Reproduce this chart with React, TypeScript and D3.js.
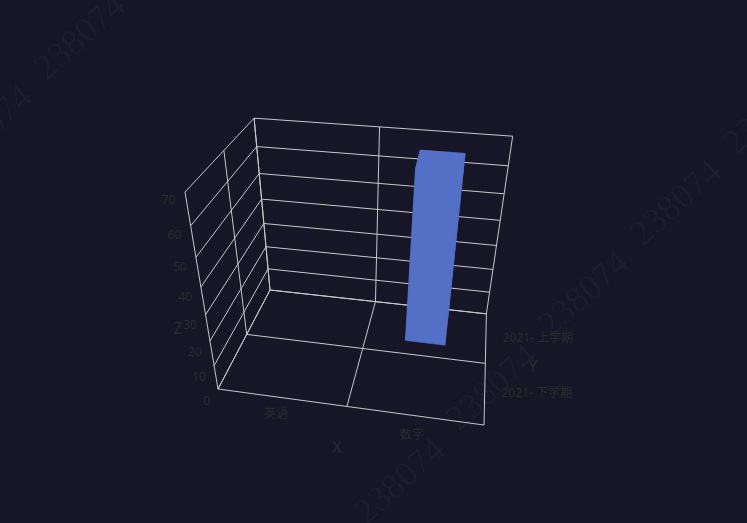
import React from "react";
import * as d3 from "d3";

const xCategories = ["英语", "数字"];
const yCategories = ["2021- 下学期", "2021- 上学期"];
const zTicks = [0, 10, 20, 30, 40, 50, 60, 70];
const barX = ["数字"];
const barY = ["2021- 上学期"];
const barZ = [66];

const BG = "#161627";
const GRID = "#c8c8c8";
const TEXT = "#2c2c2c";
const BAR = "#5470c6";
const FONT = "'Noto Sans', 'Noto Sans CJK SC', sans-serif";

// Perspective camera of the box, expressed as homogeneous images of the axis ends.
const O = [218, 389], X = [484, 425], Y = [270, 290], Z = [185, 192];
const hx = 0.94, hy = 1.23, hz = 0.8054;

const uScale = d3.scaleBand<string>().domain(xCategories).range([0, 1]);
const vScale = d3.scaleBand<string>().domain(yCategories).range([0, 1]);
const wScale = d3.scaleLinear().domain([0, 70]).range([0, 1]);

function project(u: number, v: number, w: number): [number, number] {
  const h = 1 - u - v - w + u * hx + v * hy + w * hz;
  const px = O[0] * (1 - u - v - w) + u * hx * X[0] + v * hy * Y[0] + w * hz * Z[0];
  const py = O[1] * (1 - u - v - w) + u * hx * X[1] + v * hy * Y[1] + w * hz * Z[1];
  return [px / h, py / h];
}

const line = d3.line<[number, number]>();
const seg = (a: [number, number, number], b: [number, number, number]) =>
  line([project(...a), project(...b)]) as string;

const gridSegs: string[] = [];
[0, 0.5, 1].forEach((t) => {
  gridSegs.push(seg([t, 0, 0], [t, 1, 0]));
  gridSegs.push(seg([0, t, 0], [1, t, 0]));
  gridSegs.push(seg([0, t, 0], [0, t, 1]));
  gridSegs.push(seg([t, 1, 0], [t, 1, 1]));
});
zTicks.forEach((z) => {
  const w = wScale(z);
  gridSegs.push(seg([0, 0, w], [0, 1, w]));
  gridSegs.push(seg([0, 1, w], [1, 1, w]));
});

const BAR_U_FRACTION = 0.33;
const BAR_V_FRACTION = 0.5;
function barFaces(cx: string, cy: string, value: number): string[] {
  const bw = uScale.bandwidth(), bh = vScale.bandwidth();
  const u0 = (uScale(cx) as number) + (bw * (1 - BAR_U_FRACTION)) / 2;
  const u1 = u0 + bw * BAR_U_FRACTION;
  const v0 = (vScale(cy) as number) + (bh * (1 - BAR_V_FRACTION)) / 2;
  const v1 = v0 + bh * BAR_V_FRACTION;
  const w = wScale(value);
  const quad = (pts: [number, number, number][]) =>
    (line(pts.map((p) => project(...p))) as string) + "Z";
  return [
    quad([[u0, v0, 0], [u1, v0, 0], [u1, v0, w], [u0, v0, w]]),
    quad([[u0, v1, 0], [u1, v1, 0], [u1, v1, w], [u0, v1, w]]),
    quad([[u0, v0, 0], [u0, v1, 0], [u0, v1, w], [u0, v0, w]]),
    quad([[u1, v0, 0], [u1, v1, 0], [u1, v1, w], [u1, v0, w]]),
    quad([[u0, v0, w], [u1, v0, w], [u1, v1, w], [u0, v1, w]]),
  ];
}

const watermarkStarts: [number, number][] = [
  [-46, 172], [47, 81], [367, 525], [459, 432], [551, 338], [643, 247], [736, 156],
];

export default function App() {
  return (
    <svg
      width={747}
      height={523}
      viewBox="0 0 747 523"
      style={{ position: "absolute", left: 0, top: 0, display: "block", background: BG }}
    >
      <rect width={747} height={523} fill={BG} />
      {watermarkStarts.map(([x, y], i) => (
        <text
          key={i}
          transform={`translate(${x},${y}) rotate(-42)`}
          fontFamily="'Liberation Serif', serif"
          fontSize={36}
          fill="#ffffff"
          fillOpacity={0.035}
        >
          238074
        </text>
      ))}
      <g stroke={GRID} strokeWidth={1} fill="none">
        {gridSegs.map((d, i) => (
          <path key={i} d={d} />
        ))}
      </g>
      {barX.map((cx, i) =>
        barFaces(cx, barY[i], barZ[i]).map((d, j) => (
          <path key={`${i}-${j}`} d={d} fill={BAR} stroke={BAR} strokeWidth={0.5} />
        ))
      )}
      <g fontFamily={FONT} fontSize={12} fill={TEXT} dominantBaseline="middle">
        {zTicks.map((z) => {
          const w = wScale(z);
          const [px, py] = project(0, 0, w);
          return (
            <text key={z} x={px - 8 - 1.5 * w} y={py + 13 - 4 * w} textAnchor="end">
              {z}
            </text>
          );
        })}
        {xCategories.map((c) => {
          const u = (uScale(c) as number) + uScale.bandwidth() / 2;
          const [px, py] = project(u, 0, 0);
          return (
            <text key={c} x={px - 7 + 6 * u} y={py + 16.25 + 5 * u} textAnchor="middle">
              {c}
            </text>
          );
        })}
        {yCategories.map((c) => {
          const [px, py] = project(1, (vScale(c) as number) + vScale.bandwidth() / 2, 0);
          return (
            <text key={c} x={px + 52} y={py + 1.5} textAnchor="middle">
              {c}
            </text>
          );
        })}
      </g>
      <g fontFamily={FONT} fontSize={16} fill={TEXT} textAnchor="middle" dominantBaseline="middle">
        <text x={337} y={449}>X</text>
        <text x={533} y={368}>Y</text>
        <text x={178} y={330}>Z</text>
      </g>
    </svg>
  );
}
